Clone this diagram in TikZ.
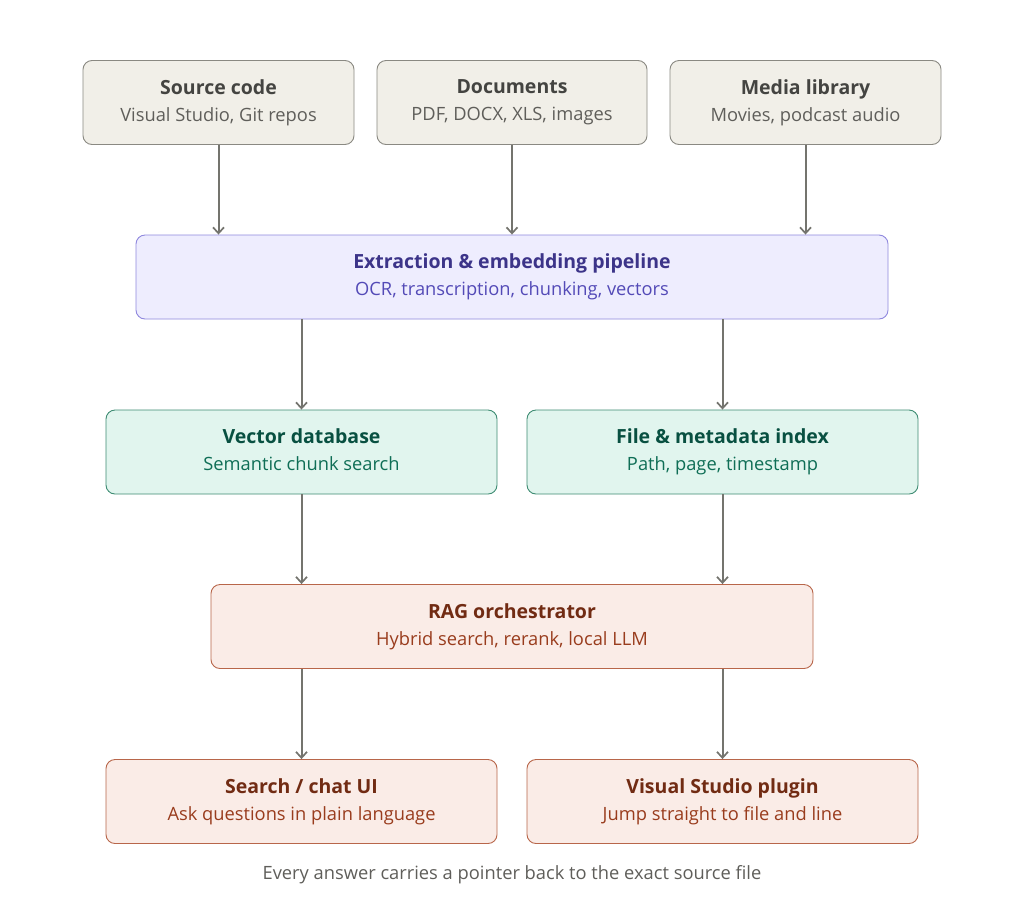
\documentclass[tikz,border=0pt]{standalone}
\usepackage{fontspec}
\setmainfont{Open Sans}
\usetikzlibrary{arrows.meta}
\definecolor{grayfill}{HTML}{F1EFE8}
\definecolor{graydraw}{HTML}{8A8982}
\definecolor{graytitle}{HTML}{444441}
\definecolor{graysub}{HTML}{5F5E5A}
\definecolor{purfill}{HTML}{EEEDFE}
\definecolor{purdraw}{HTML}{8F88DE}
\definecolor{purtitle}{HTML}{3C3489}
\definecolor{pursub}{HTML}{534AB7}
\definecolor{grnfill}{HTML}{E1F5EE}
\definecolor{grndraw}{HTML}{3E8C73}
\definecolor{grntitle}{HTML}{085041}
\definecolor{grnsub}{HTML}{0F6E56}
\definecolor{corfill}{HTML}{FAECE7}
\definecolor{cordraw}{HTML}{B8664A}
\definecolor{cortitle}{HTML}{712B13}
\definecolor{corsub}{HTML}{993C1D}
\definecolor{arrowc}{HTML}{74746E}
\tikzset{
  box/.style={rounded corners=9pt, line width=0.9pt, minimum height=84pt, inner sep=0pt, align=center, font=\fontsize{18.3}{25}\selectfont},
  graybox/.style={box, fill=grayfill, draw=graydraw, text=graysub},
  purbox/.style={box, fill=purfill, draw=purdraw, text=pursub},
  grnbox/.style={box, fill=grnfill, draw=grndraw, text=grnsub},
  corbox/.style={box, fill=corfill, draw=cordraw, text=corsub},
  conn/.style={draw=arrowc, line width=2pt, -{Straight Barb[length=6pt,width=11pt,line width=1.7pt]}},
}
\newcommand{\bt}[3]{{\fontsize{19.5}{26}\selectfont\bfseries\color{#1}\vphantom{Apgy}#2}\\[2pt]\vphantom{Apgy}#3}
\begin{document}
\begin{tikzpicture}[x=1pt,y=-1pt]
\useasboundingbox[fill=white] (0,0) rectangle (1024,919);
\node[graybox, minimum width=271pt] (src) at (218.5,102.5) {\bt{graytitle}{Source code}{Visual Studio, Git repos}};
\node[graybox, minimum width=270pt] (doc) at (512,102.5) {\bt{graytitle}{Documents}{PDF, DOCX, XLS, images}};
\node[graybox, minimum width=271pt] (med) at (805.5,102.5) {\bt{graytitle}{Media library}{Movies, podcast audio}};
\node[purbox, minimum width=752pt] (ext) at (512,277) {\bt{purtitle}{Extraction \& embedding pipeline}{OCR, transcription, chunking, vectors}};
\node[grnbox, minimum width=391pt] (vec) at (301.5,452) {\bt{grntitle}{Vector database}{Semantic chunk search}};
\node[grnbox, minimum width=391pt] (idx) at (722.5,452) {\bt{grntitle}{File \& metadata index}{Path, page, timestamp}};
\node[corbox, minimum width=602pt] (rag) at (512,626.5) {\bt{cortitle}{RAG orchestrator}{Hybrid search, rerank, local LLM}};
\node[corbox, minimum width=391pt] (ui) at (301.5,801.5) {\bt{cortitle}{Search / chat UI}{Ask questions in plain language}};
\node[corbox, minimum width=391pt] (vsp) at (722.5,801.5) {\bt{cortitle}{Visual Studio plugin}{Jump straight to file and line}};
\node[text=graysub, font=\fontsize{18.3}{20}\selectfont] (cap) at (512,875) {Every answer carries a pointer back to the exact source file};
\draw[conn] (src.south) -- (src.south |- ext.north);
\draw[conn] (doc.south) -- (doc.south |- ext.north);
\draw[conn] (med.south) -- (med.south |- ext.north);
\draw[conn] (ext.south -| vec.north) -- (vec.north);
\draw[conn] (ext.south -| idx.north) -- (idx.north);
\draw[conn] (vec.south) -- (vec.south |- rag.north);
\draw[conn] (idx.south) -- (idx.south |- rag.north);
\draw[conn] (rag.south -| ui.north) -- (ui.north);
\draw[conn] (rag.south -| vsp.north) -- (vsp.north);
\end{tikzpicture}
\end{document}
